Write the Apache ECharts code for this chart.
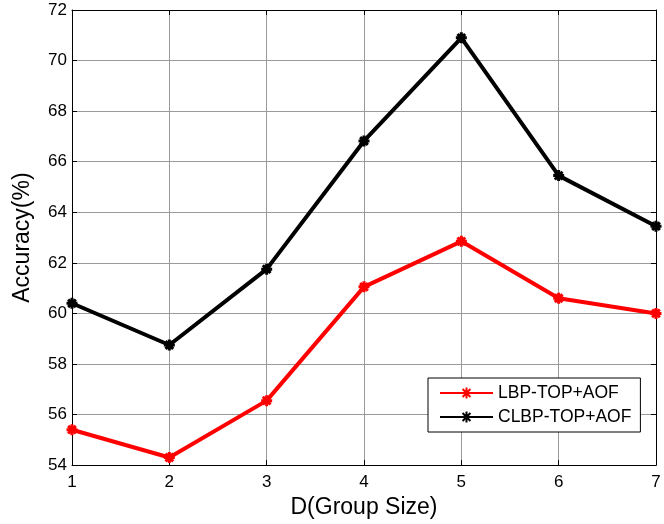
<!DOCTYPE html>
<html>
<head>
<meta charset="utf-8">
<script src="https://cdn.jsdelivr.net/npm/echarts@6/dist/echarts.min.js"></script>
<style>html,body{margin:0;padding:0;background:#fff;}#c{width:664px;height:524px;}</style>
</head>
<body>
<div id="c"></div>
<script>
var categories = ['1', '2', '3', '4', '5', '6', '7'];
var lbpTopAof = [55.4, 54.3, 56.55, 61.05, 62.85, 60.6, 60.0];
var clbpTopAof = [60.4, 58.75, 61.75, 66.82, 70.9, 65.45, 63.45];
var yTicks = [54, 56, 58, 60, 62, 64, 66, 68, 70, 72];

var star = 'path://M5,0L5,10M0,5L10,5M1.5,1.5L8.5,8.5M8.5,1.5L1.5,8.5';
var chart = echarts.init(document.getElementById('c'));
var font = 'Liberation Sans, Arial, sans-serif';
var boxAxis = {lineStyle: {color: '#000', width: 1}};
chart.setOption({
  animation: false,
  grid: {left: 72, right: 8, top: 10, bottom: 57},
  legend: {
    left: 428, top: 378,
    orient: 'vertical',
    backgroundColor: '#fff',
    borderColor: '#000', borderWidth: 1,
    padding: [6, 9, 6, 11],
    itemGap: 6,
    itemWidth: 53, itemHeight: 14,
    textStyle: {fontFamily: font, fontSize: 17.5, color: '#000'},
    data: ['LBP-TOP+AOF', 'CLBP-TOP+AOF']
  },
  xAxis: [{
    type: 'category', data: categories, boundaryGap: false,
    name: 'D(Group Size)', nameLocation: 'middle', nameGap: 29,
    nameTextStyle: {fontFamily: font, fontSize: 23, color: '#000'},
    axisLine: boxAxis,
    axisTick: {inside: true, length: 5, lineStyle: {color: '#000'}},
    axisLabel: {fontFamily: font, fontSize: 17, color: '#000', margin: 9},
    splitLine: {show: true, lineStyle: {color: '#9a9a9a', width: 1}}
  }, {
    type: 'category', data: categories, boundaryGap: false, position: 'top',
    axisLine: boxAxis,
    axisTick: {inside: true, length: 5, lineStyle: {color: '#000'}},
    axisLabel: {show: false}, splitLine: {show: false}
  }],
  yAxis: [{
    type: 'value', min: 54, max: 72, interval: 2,
    name: 'Accuracy(%)', nameLocation: 'middle', nameGap: 38,
    nameTextStyle: {fontFamily: font, fontSize: 23, color: '#000'},
    axisLine: {show: true, lineStyle: {color: '#000', width: 1}},
    axisTick: {show: true, inside: true, length: 5, lineStyle: {color: '#000'}},
    axisLabel: {fontFamily: font, fontSize: 17, color: '#000', margin: 5,
      formatter: function (v) { return yTicks.indexOf(v) >= 0 ? String(v) : ''; }},
    splitLine: {show: true, lineStyle: {color: '#9a9a9a', width: 1}}
  }, {
    type: 'value', min: 54, max: 72, interval: 2, position: 'right',
    axisLine: {show: true, lineStyle: {color: '#000', width: 1}},
    axisTick: {show: true, inside: true, length: 5, lineStyle: {color: '#000'}},
    axisLabel: {show: false}, splitLine: {show: false}
  }],
  series: [{
    name: 'LBP-TOP+AOF', type: 'line', data: lbpTopAof,
    symbol: star, symbolSize: 11,
    lineStyle: {color: '#ff0000', width: 4},
    itemStyle: {color: '#ff0000', borderColor: '#ff0000', borderWidth: 3}
  }, {
    name: 'CLBP-TOP+AOF', type: 'line', data: clbpTopAof,
    symbol: star, symbolSize: 11,
    lineStyle: {color: '#000', width: 4},
    itemStyle: {color: '#000', borderColor: '#000', borderWidth: 3}
  }]
});
</script>
</body>
</html>
